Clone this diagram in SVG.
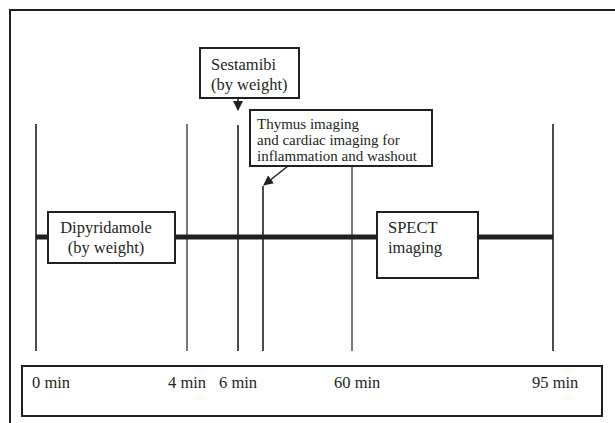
<svg xmlns="http://www.w3.org/2000/svg" width="615" height="423" viewBox="0 0 615 423" font-family="Liberation Serif, Times New Roman, DejaVu Serif, serif">
<style>
text{font-family:'Liberation Serif','Times New Roman','DejaVu Serif',serif;font-size:16.5px;fill:#231f20}
.sm{font-size:15px}
.box{fill:#fff;stroke:#231f20;stroke-width:2}
.v{stroke:#231f20;stroke-width:1.6;fill:none}
.vt{stroke:#231f20;stroke-width:1.2;fill:none}
</style>
<defs>
<marker id="ah" viewBox="0 0 10 10" refX="9" refY="5" markerWidth="10" markerHeight="10" markerUnits="userSpaceOnUse" orient="auto">
<path d="M0,0 L10,5 L0,10 Z" fill="#231f20"/>
</marker>
</defs>
<rect width="615" height="423" fill="#fff"/>
<path d="M10,424 V10 H616" fill="none" stroke="#231f20" stroke-width="2"/>
<g id="connectors">
<line class="v" x1="36" y1="124" x2="36" y2="351"/>
<line class="vt" x1="187" y1="124" x2="187" y2="351"/>
<line class="v" x1="238" y1="125" x2="238" y2="351"/>
<line class="v" x1="263" y1="186" x2="263" y2="351"/>
<line class="vt" x1="352" y1="166" x2="352" y2="351"/>
<line class="v" x1="553" y1="124" x2="553" y2="351"/>
<line x1="36" y1="237" x2="553" y2="237" stroke="#231f20" stroke-width="5"/>
<line x1="238" y1="98" x2="238" y2="110" stroke="#231f20" stroke-width="1.5" marker-end="url(#ah)"/>
<line x1="288" y1="166" x2="264" y2="185" stroke="#231f20" stroke-width="1.5" marker-end="url(#ah)"/>
</g>
<g id="sestamibi">
<rect class="box" x="200" y="48" width="99" height="50"/>
<text x="211" y="70">Sestamibi</text>
<text x="211" y="90">(by weight)</text>
</g>
<g id="thymus">
<rect class="box" x="250" y="110" width="182" height="56"/>
<text class="sm" x="257" y="129">Thymus imaging</text>
<text class="sm" x="257" y="145">and cardiac imaging for</text>
<text class="sm" x="257" y="161">inflammation and washout</text>
</g>
<g id="dipyridamole">
<rect class="box" x="48" y="212" width="127" height="51"/>
<text x="106" y="233" text-anchor="middle">Dipyridamole</text>
<text x="106" y="253" text-anchor="middle">(by weight)</text>
</g>
<g id="spect">
<rect class="box" x="377" y="212" width="101" height="66"/>
<text x="388" y="233">SPECT</text>
<text x="388" y="253">imaging</text>
</g>
<g id="timeaxis">
<rect class="box" x="22" y="366" width="580" height="50"/>
<text x="32" y="388">0 min</text>
<text x="168" y="388">4 min</text>
<text x="219" y="388">6 min</text>
<text x="334" y="388">60 min</text>
<text x="532" y="388">95 min</text>
</g>
</svg>
